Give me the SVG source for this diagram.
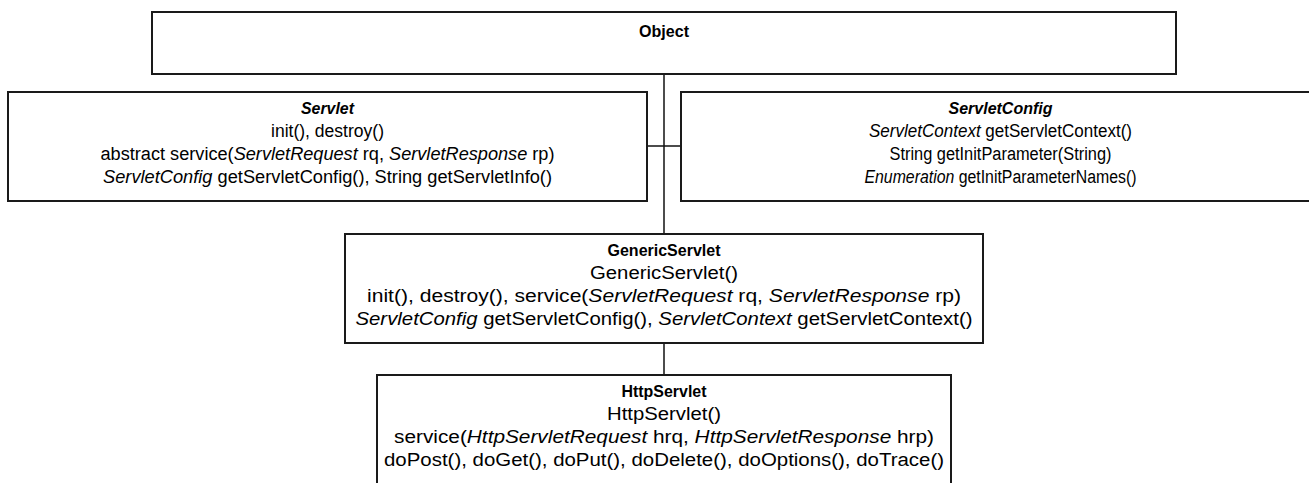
<svg xmlns="http://www.w3.org/2000/svg" width="1309" height="483" viewBox="0 0 1309 483">
<style>
.box{fill:#fff;stroke:#1a1a1a;stroke-width:2}
.conn{stroke:#111;stroke-width:1.5;fill:none}
text{font-family:"Liberation Sans",Arial,sans-serif;font-size:18px;fill:#000;text-anchor:middle}
.t{font-weight:bold;font-size:17px}
.i{font-style:italic}
</style>
<rect width="1309" height="483" fill="#fff"/>
<g id="connectors">
<line class="conn" x1="664" y1="74" x2="664" y2="234"/>
<line class="conn" x1="647" y1="146" x2="681" y2="146"/>
<line class="conn" x1="664" y1="343" x2="664" y2="375"/>
</g>
<g id="object">
<rect class="box" x="152" y="12" width="1024" height="62"/>
<text class="t" x="664" y="37" textLength="50" lengthAdjust="spacingAndGlyphs">Object</text>
</g>
<g id="servlet">
<rect class="box" x="8" y="92" width="639" height="109"/>
<text class="t i" x="327.5" y="114" textLength="53" lengthAdjust="spacingAndGlyphs">Servlet</text>
<text x="327.5" y="137" textLength="113" lengthAdjust="spacingAndGlyphs">init(), destroy()</text>
<text x="327.5" y="160" textLength="454" lengthAdjust="spacingAndGlyphs">abstract service(<tspan class="i">ServletRequest</tspan> rq, <tspan class="i">ServletResponse</tspan> rp)</text>
<text x="327.5" y="183" textLength="449" lengthAdjust="spacingAndGlyphs"><tspan class="i">ServletConfig</tspan> getServletConfig(), String getServletInfo()</text>
</g>
<g id="servletconfig">
<rect class="box" x="681" y="92" width="639" height="109"/>
<text class="t i" x="1000.5" y="114" textLength="104" lengthAdjust="spacingAndGlyphs">ServletConfig</text>
<text x="1000.5" y="137" textLength="263" lengthAdjust="spacingAndGlyphs"><tspan class="i">ServletContext</tspan> getServletContext()</text>
<text x="1000.5" y="160" textLength="222" lengthAdjust="spacingAndGlyphs">String getInitParameter(String)</text>
<text x="1000.5" y="183" textLength="272" lengthAdjust="spacingAndGlyphs"><tspan class="i">Enumeration</tspan> getInitParameterNames()</text>
</g>
<g id="genericservlet">
<rect class="box" x="345" y="234" width="638" height="109"/>
<text class="t" x="664" y="256" textLength="113" lengthAdjust="spacingAndGlyphs">GenericServlet</text>
<text x="664" y="279" textLength="148" lengthAdjust="spacingAndGlyphs">GenericServlet()</text>
<text x="664" y="302" textLength="594" lengthAdjust="spacingAndGlyphs">init(), destroy(), service(<tspan class="i">ServletRequest</tspan> rq, <tspan class="i">ServletResponse</tspan> rp)</text>
<text x="664" y="325" textLength="617" lengthAdjust="spacingAndGlyphs"><tspan class="i">ServletConfig</tspan> getServletConfig(), <tspan class="i">ServletContext</tspan> getServletContext()</text>
</g>
<g id="httpservlet">
<rect class="box" x="377" y="375" width="574" height="120"/>
<text class="t" x="664" y="397" textLength="85" lengthAdjust="spacingAndGlyphs">HttpServlet</text>
<text x="664" y="420" textLength="114" lengthAdjust="spacingAndGlyphs">HttpServlet()</text>
<text x="664" y="443" textLength="540" lengthAdjust="spacingAndGlyphs">service(<tspan class="i">HttpServletRequest</tspan> hrq, <tspan class="i">HttpServletResponse</tspan> hrp)</text>
<text x="664" y="466" textLength="560" lengthAdjust="spacingAndGlyphs">doPost(), doGet(), doPut(), doDelete(), doOptions(), doTrace()</text>
</g>
</svg>
